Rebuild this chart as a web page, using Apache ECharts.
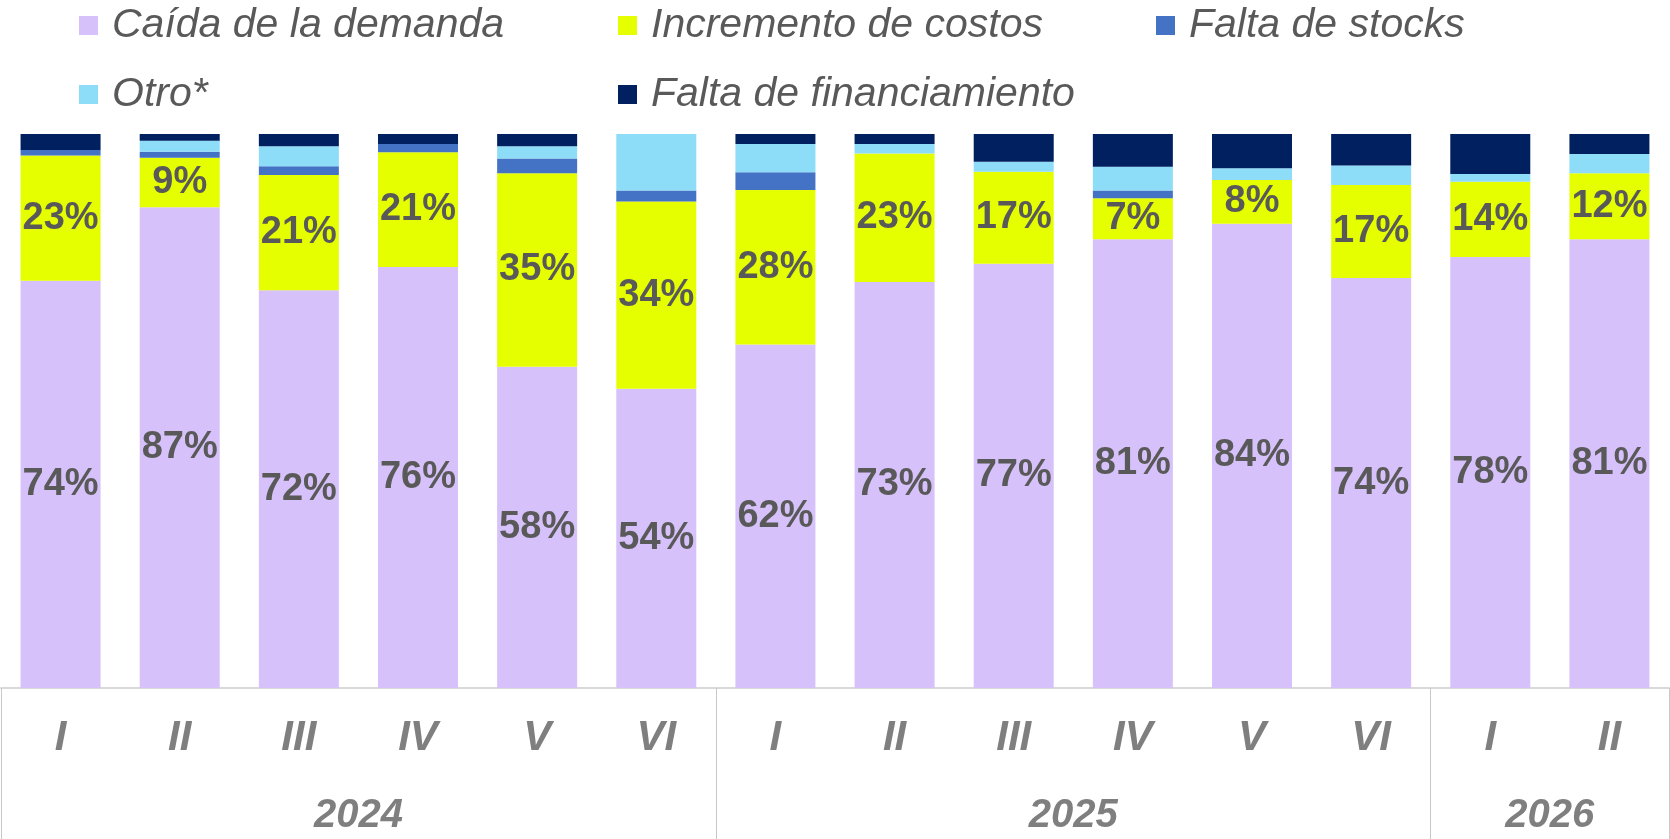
<!DOCTYPE html>
<html>
<head>
<meta charset="utf-8">
<script src="https://cdn.jsdelivr.net/npm/echarts@6/dist/echarts.min.js"></script>
<style>
  html, body { margin: 0; padding: 0; background: #fff; }
  #chart { width: 1670px; height: 839px; }
</style>
</head>
<body>
<div id="chart"></div>
<script>
const periods = ['I', 'II', 'III', 'IV', 'V', 'VI', 'I', 'II', 'III', 'IV', 'V', 'VI', 'I', 'II']
const years = ['2024', '2025', '2026']
const yearCounts = [6, 6, 2]

// % de respuestas, de abajo hacia arriba en cada barra
const demanda       = [73.5, 86.8, 71.8, 76.0, 58.0, 54.0, 62.0, 73.3, 76.6, 81.0, 83.8, 74.0, 77.8, 81.0]
const costos        = [22.6,  8.9, 20.8, 20.7, 34.9, 33.8, 27.9, 23.2, 16.6,  7.4,  7.9, 16.8, 13.6, 11.9]
const stocks        = [ 1.0,  1.1,  1.6,  1.5,  2.7,  2.0,  3.2,  0.0,  0.0,  1.4,  0.0,  0.0,  0.0,  0.0]
const otro          = [ 0.0,  2.0,  3.6,  0.0,  2.2, 10.2,  5.1,  1.7,  1.8,  4.3,  2.1,  3.5,  1.4,  3.5]
const financiamiento = [2.9,  1.2,  2.2,  1.8,  2.2,  0.0,  1.8,  1.8,  5.0,  5.9,  6.2,  5.7,  7.2,  3.6]

const GRAY = '#595959'
const FONT = 'Liberation Sans, Arial, sans-serif'

// year group boundaries and centres on a 0..n scale
const bounds = [0]
yearCounts.forEach((c) => bounds.push(bounds[bounds.length - 1] + c))
const centres = years.map((y, i) => (bounds[i] + bounds[i + 1]) / 2)

const pctLabel = {
  show: true,
  position: 'inside',
  formatter: (p) => Math.round(p.value) + '%',
  color: GRAY,
  fontFamily: FONT,
  fontWeight: 'bold',
  fontSize: 38,
}

function bar(name, data, color, label) {
  return {
    name,
    type: 'bar',
    stack: 'total',
    data,
    barWidth: 80,
    itemStyle: { color },
    label: label || { show: false },
    emphasis: { disabled: true },
  }
}

function legendAt(name, left, top) {
  return {
    data: [name],
    left, top,
    padding: 0,
    itemWidth: 19,
    itemHeight: 19,
    itemGap: 0,
    icon: 'rect',
    textStyle: { color: GRAY, fontSize: 41, fontStyle: 'italic', fontFamily: FONT, padding: [0, 0, 0, 9] },
  }
}

const chart = echarts.init(document.getElementById('chart'), null, { renderer: 'canvas' })

chart.setOption({
  animation: false,
  legend: [
    legendAt('Caída de la demanda', 79, 5),
    legendAt('Incremento de costos', 618, 5),
    legendAt('Falta de stocks', 1156, 5),
    legendAt('Otro*', 79, 74),
    legendAt('Falta de financiamiento', 618, 74),
  ],
  grid: { left: 1, right: 1, top: 134, bottom: 151, containLabel: false },
  xAxis: [
    {
      type: 'category',
      data: periods,
      position: 'bottom',
      axisLine: { lineStyle: { color: '#d9d9d9', width: 2 } },
      axisTick: { show: false },
      axisLabel: {
        color: '#7f7f7f', fontSize: 42, fontStyle: 'italic', fontWeight: 'bold', fontFamily: FONT,
        margin: 29, interval: 0,
      },
    },
    {
      type: 'value',
      min: 0,
      max: bounds[bounds.length - 1],
      position: 'bottom',
      axisLine: { show: false },
      splitLine: { show: false },
      axisTick: {
        show: true,
        customValues: bounds,
        length: 151,
        lineStyle: { color: '#c8c8c8', width: 1 },
      },
      axisLabel: {
        customValues: centres,
        formatter: (v) => years[centres.indexOf(v)],
        color: '#7f7f7f', fontSize: 40, fontStyle: 'italic', fontWeight: 'bold', fontFamily: FONT,
        margin: 108,
      },
    },
  ],
  yAxis: { type: 'value', min: 0, max: 100, show: false },
  series: [
    bar('Caída de la demanda', demanda, '#d6c1fa', pctLabel),
    bar('Incremento de costos', costos, '#e5ff00', pctLabel),
    bar('Falta de stocks', stocks, '#4472c4'),
    bar('Otro*', otro, '#8ddcf8'),
    bar('Falta de financiamiento', financiamiento, '#002060'),
  ],
})
</script>
</body>
</html>
